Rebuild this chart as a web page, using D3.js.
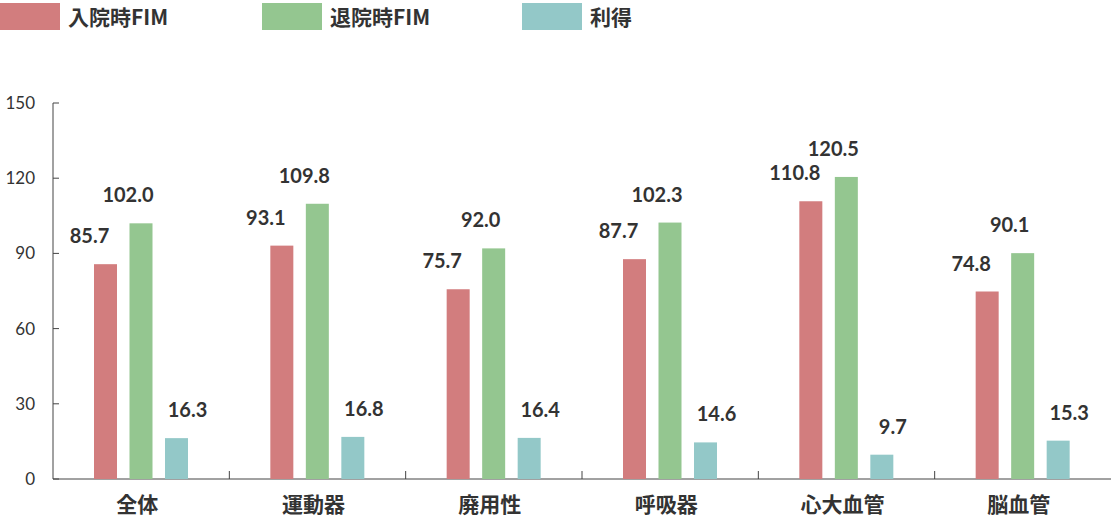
<!DOCTYPE html>
<html><head><meta charset="utf-8">
<script src="https://cdn.jsdelivr.net/npm/d3@7"></script>
<style>body{margin:0;background:#fff}</style>
</head><body><div id="chart"></div>
<script>
var categories = ["全体","運動器","廃用性","呼吸器","心大血管","脳血管"];
var seriesNames = ["入院時FIM","退院時FIM","利得"];
var admission = [85.7,93.1,75.7,87.7,110.8,74.8];
var discharge = [102.0,109.8,92.0,102.3,120.5,90.1];
var gain = [16.3,16.8,16.4,14.6,9.7,15.3];
var yTicks = [0,30,60,90,120,150];
var colors = ["#d27d7e","#94c690","#93c8c8"];

var W = 1111, H = 517;
var svg = d3.select("#chart").append("svg").attr("width", W).attr("height", H);
var x0 = d3.scaleBand().domain(categories).range([53, 1111]);
var y = d3.scaleLinear().domain([0,150]).range([479, 103]);
var font = "Lato, 'Noto Sans CJK JP', sans-serif";

// legend
seriesNames.forEach(function(n, i){
  var lx = [0,262,522][i];
  svg.append("rect").attr("x", lx).attr("y", 3).attr("width", 60).attr("height", 27).attr("fill", colors[i]);
  svg.append("text").attr("x", lx + 68).attr("y", 25).text(n)
    .attr("font-family", "'Noto Sans CJK JP', sans-serif").attr("font-weight", 700)
    .attr("font-size", 21).attr("fill", "#333");
});

// y axis
svg.append("line").attr("x1",53).attr("x2",53).attr("y1",y(150)).attr("y2",y(0)).attr("stroke","#444");
svg.append("line").attr("x1",53).attr("x2",1111).attr("y1",y(0)).attr("y2",y(0)).attr("stroke","#444");
yTicks.forEach(function(t){
  svg.append("line").attr("x1",53).attr("x2",59).attr("y1",y(t)).attr("y2",y(t)).attr("stroke","#444");
  svg.append("text").attr("x",35).attr("y",y(t)+6).attr("text-anchor","end").text(t)
    .attr("font-family",font).attr("font-size",17).attr("fill","#333");
});
categories.slice(1).forEach(function(c){
  var bx = x0(c);
  svg.append("line").attr("x1",bx).attr("x2",bx).attr("y1",y(0)).attr("y2",y(0)-8).attr("stroke","#444");
});

var data = [admission, discharge, gain];
var offs = [41, 76.5, 112];
var labelShift = [-16, -13, 11];
categories.forEach(function(c, ci){
  data.forEach(function(s, si){
    var v = s[ci], bx = x0(c) + offs[si];
    svg.append("rect").attr("x", bx).attr("y", y(v)).attr("width", 23)
      .attr("height", y(0) - y(v)).attr("fill", colors[si]);
    svg.append("text").attr("x", bx + 11.5 + labelShift[si]).attr("y", y(v) - 21)
      .attr("text-anchor","middle").text(v.toFixed(1))
      .attr("font-family",font).attr("font-weight",700).attr("font-size",20).attr("fill","#333");
  });
  svg.append("text").attr("x", x0(c) + x0.bandwidth()/2 - 4).attr("y", 512)
    .attr("text-anchor","middle").text(c)
    .attr("font-family","'Noto Sans CJK JP', sans-serif").attr("font-weight",700)
    .attr("font-size",21).attr("fill","#333");
});
</script></body></html>
